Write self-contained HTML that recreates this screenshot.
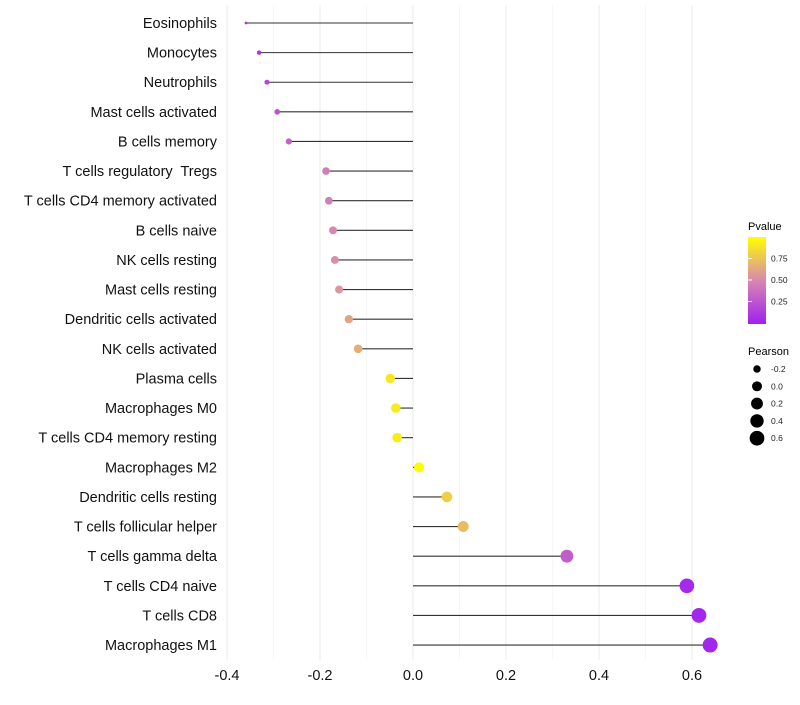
<!DOCTYPE html>
<html><head><meta charset="utf-8"><style>
body{margin:0;background:#fff;font-family:"Liberation Sans",sans-serif}
svg text{font-family:"Liberation Sans",sans-serif;white-space:pre}
</style></head><body>
<svg id="chart" width="800" height="700" viewBox="0 0 800 700" xmlns="http://www.w3.org/2000/svg">
<defs><linearGradient id="pg" x1="0" y1="1" x2="0" y2="0">
<stop offset="0" stop-color="#a020f0"/><stop offset="0.5" stop-color="#d888b0"/><stop offset="1" stop-color="#ffff00"/></linearGradient></defs>
<g id="grid"></g>
<g id="marks"></g>
<g id="ylabels"></g>
<g id="xlabels"></g>
<g>
<text x="748" y="230" font-size="11">Pvalue</text>
<rect x="748" y="237" width="18" height="87" fill="url(#pg)"/>
<g id="cbticks"></g>
</g>
<g>
<text x="748" y="355" font-size="11">Pearson</text>
<g id="sizelegend"></g>
</g>
</svg>
<script>
const categories=["Eosinophils","Monocytes","Neutrophils","Mast cells activated","B cells memory","T cells regulatory  Tregs","T cells CD4 memory activated","B cells naive","NK cells resting","Mast cells resting","Dendritic cells activated","NK cells activated","Plasma cells","Macrophages M0","T cells CD4 memory resting","Macrophages M2","Dendritic cells resting","T cells follicular helper","T cells gamma delta","T cells CD4 naive","T cells CD8","Macrophages M1"];
const pearson=[-0.359,-0.331,-0.314,-0.292,-0.267,-0.187,-0.181,-0.172,-0.168,-0.159,-0.138,-0.118,-0.049,-0.037,-0.034,0.013,0.073,0.108,0.331,0.589,0.615,0.639];
const pvalue=[0.08,0.12,0.18,0.25,0.32,0.45,0.45,0.5,0.52,0.56,0.62,0.66,0.9,0.92,0.92,0.98,0.8,0.72,0.3,0.05,0.04,0.03];
const xTicks=[-0.4,-0.2,0.0,0.2,0.4,0.6];
const cbTicks=[0.25,0.5,0.75];
const sizeTicks=[-0.2,0.0,0.2,0.4,0.6];
const NS="http://www.w3.org/2000/svg";
const x=v=>413+v*465;
const y=i=>23+i*29.62;
const r=v=>1.2+6.3*Math.sqrt(Math.max(0,v+0.36));
function col(p){
 const a=[160,32,240],b=[216,136,176],c=[255,255,0];
 let s,e,t; if(p<0.5){s=a;e=b;t=p/0.5}else{s=b;e=c;t=(p-0.5)/0.5}
 return `rgb(${s.map((v,k)=>Math.round(v+(e[k]-v)*t)).join(',')})`;
}
function mk(t,at,parent){const el=document.createElementNS(NS,t);for(const k in at)el.setAttribute(k,at[k]);document.getElementById(parent).appendChild(el);return el;}
for(let g=-0.4;g<=0.65;g+=0.1){
 const major=Math.abs(Math.round(g*10)%2)===0;
 const el=mk('line',{x1:x(g),x2:x(g),y1:5,y2:660,stroke:major?'#ebebeb':'#f4f4f4','stroke-width':major?1:0.7},'grid');
 
 
}
categories.forEach((c,i)=>{
 const ln=mk('line',{x1:x(0),x2:x(pearson[i]),y1:y(i),y2:y(i),stroke:'#333','stroke-width':1.1},'marks');
 
 
 const pt=mk('circle',{cx:x(pearson[i]),cy:y(i),r:r(pearson[i]),fill:col(pvalue[i])},'marks');
 
 
 const tx=mk('text',{x:217,y:y(i)+5,'text-anchor':'end','font-size':14.5,fill:'#111'},'ylabels');
 tx.textContent=c;
 
 
});
xTicks.forEach(t=>{
 const tx=mk('text',{x:x(t),y:680,'text-anchor':'middle','font-size':14.5,fill:'#111'},'xlabels');
 tx.textContent=t.toFixed(1);
 
 
});
cbTicks.forEach(t=>{
 const yy=323-t*86;
 const ln=mk('line',{x1:748,x2:752,y1:yy,y2:yy,stroke:'#fff'},'cbticks');
 
 
 const tx=mk('text',{x:771,y:yy+3,'font-size':8.5,fill:'#222'},'cbticks');
 tx.textContent=t.toFixed(2);
 
 
});
sizeTicks.forEach((t,i)=>{
 const yy=369+i*17.3;
 const c=mk('circle',{cx:757,cy:yy,r:r(t),fill:'#000'},'sizelegend');
 
 
 const tx=mk('text',{x:771,y:yy+3,'font-size':8.5,fill:'#222'},'sizelegend');
 tx.textContent=t.toFixed(1);
 
 
});
</script>
</body></html>
